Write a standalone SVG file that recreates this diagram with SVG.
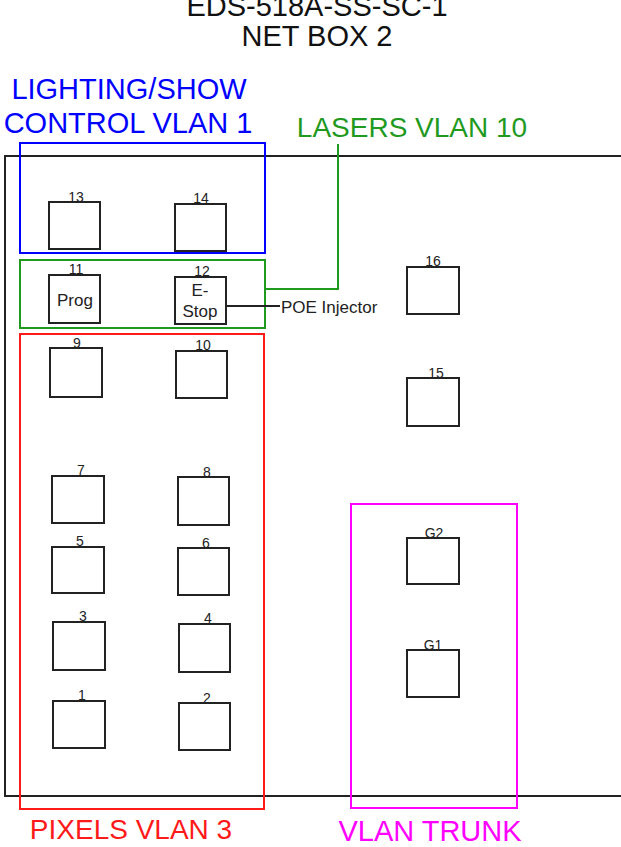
<svg xmlns="http://www.w3.org/2000/svg" width="621" height="847" viewBox="0 0 621 847">
<style>
text{font-family:"Liberation Sans",Arial,sans-serif}
.port{fill:#fff;stroke:#222;stroke-width:2}
.num{font-size:14px;fill:#222;text-anchor:middle}
.in{font-size:17px;fill:#222;text-anchor:middle}
.big{font-size:29px;text-anchor:middle}
.grp{fill:none;stroke-width:2}
</style>
<rect width="621" height="847" fill="#fff"/>
<g id="title">
<text class="big" x="317" y="16" fill="#111">EDS-518A-SS-SC-1</text>
<text class="big" x="317" y="46" fill="#111">NET BOX 2</text>
</g>
<g id="switch"><rect x="5" y="156" width="630" height="640" fill="none" stroke="#222" stroke-width="2"/></g>
<g id="vlan1">
<rect class="grp" x="20" y="143" width="245" height="110" stroke="#0000ff"/>
<text x="129" y="99" class="big" fill="#0000ff">LIGHTING/SHOW</text>
<text x="128" y="133" class="big" fill="#0000ff">CONTROL VLAN 1</text>
</g>
<g id="vlan10">
<rect class="grp" x="20" y="260" width="245" height="68" stroke="#1f9a1f"/>
<text x="412" y="137" class="big" style="font-size:28px" fill="#1f9a1f">LASERS VLAN 10</text>
</g>
<g id="vlan3">
<rect class="grp" x="20" y="334" width="244" height="475" stroke="#ff1a1a"/>
<text x="131" y="839" class="big" style="font-size:28px" fill="#ff1a1a">PIXELS VLAN 3</text>
</g>
<g id="trunk">
<rect class="grp" x="351" y="504" width="166" height="304" stroke="#ff00ff"/>
<text x="430" y="841" class="big" fill="#ff00ff">VLAN TRUNK</text>
</g>
<g id="connectors" fill="none">
<polyline points="265,289 338,289 338,144" stroke="#1f9a1f" stroke-width="2"/>
<line x1="226" y1="306" x2="280" y2="306" stroke="#222" stroke-width="2"/>
</g>
<g id="poe"><text x="281" y="313" style="font-size:17px" fill="#222">POE Injector</text></g>
<g id="p13"><rect class="port" x="49" y="202" width="51" height="47"/><text class="num" x="76" y="202">13</text></g>
<g id="p14"><rect class="port" x="175" y="204" width="51" height="47"/><text class="num" x="201" y="203">14</text></g>
<g id="p11"><rect class="port" x="49" y="275" width="51" height="48"/><text class="num" x="76" y="274">11</text><text class="in" x="75" y="306">Prog</text></g>
<g id="p12"><rect class="port" x="175" y="277" width="51" height="47"/><text class="num" x="202" y="276">12</text><text class="in" x="200" y="296">E-</text><text class="in" x="200" y="317">Stop</text></g>
<g id="p9"><rect class="port" x="50" y="348" width="52" height="49"/><text class="num" x="77" y="348">9</text></g>
<g id="p10"><rect class="port" x="176" y="351" width="51" height="47"/><text class="num" x="203" y="350">10</text></g>
<g id="p7"><rect class="port" x="52" y="476" width="52" height="47"/><text class="num" x="81" y="475">7</text></g>
<g id="p8"><rect class="port" x="178" y="477" width="51" height="48"/><text class="num" x="207" y="477">8</text></g>
<g id="p5"><rect class="port" x="52" y="547" width="52" height="46"/><text class="num" x="80" y="546">5</text></g>
<g id="p6"><rect class="port" x="178" y="548" width="51" height="47"/><text class="num" x="206" y="548">6</text></g>
<g id="p3"><rect class="port" x="53" y="622" width="52" height="48"/><text class="num" x="83" y="621">3</text></g>
<g id="p4"><rect class="port" x="179" y="624" width="51" height="48"/><text class="num" x="208" y="623">4</text></g>
<g id="p1"><rect class="port" x="53" y="701" width="52" height="47"/><text class="num" x="82" y="700">1</text></g>
<g id="p2"><rect class="port" x="179" y="703" width="51" height="47"/><text class="num" x="207" y="703">2</text></g>
<g id="p16"><rect class="port" x="407" y="267" width="52" height="47"/><text class="num" x="433" y="266">16</text></g>
<g id="p15"><rect class="port" x="407" y="378" width="52" height="48"/><text class="num" x="436" y="378">15</text></g>
<g id="pG2"><rect class="port" x="407" y="538" width="52" height="46"/><text class="num" x="434" y="538">G2</text></g>
<g id="pG1"><rect class="port" x="407" y="650" width="52" height="47"/><text class="num" x="433" y="650">G1</text></g>
</svg>
